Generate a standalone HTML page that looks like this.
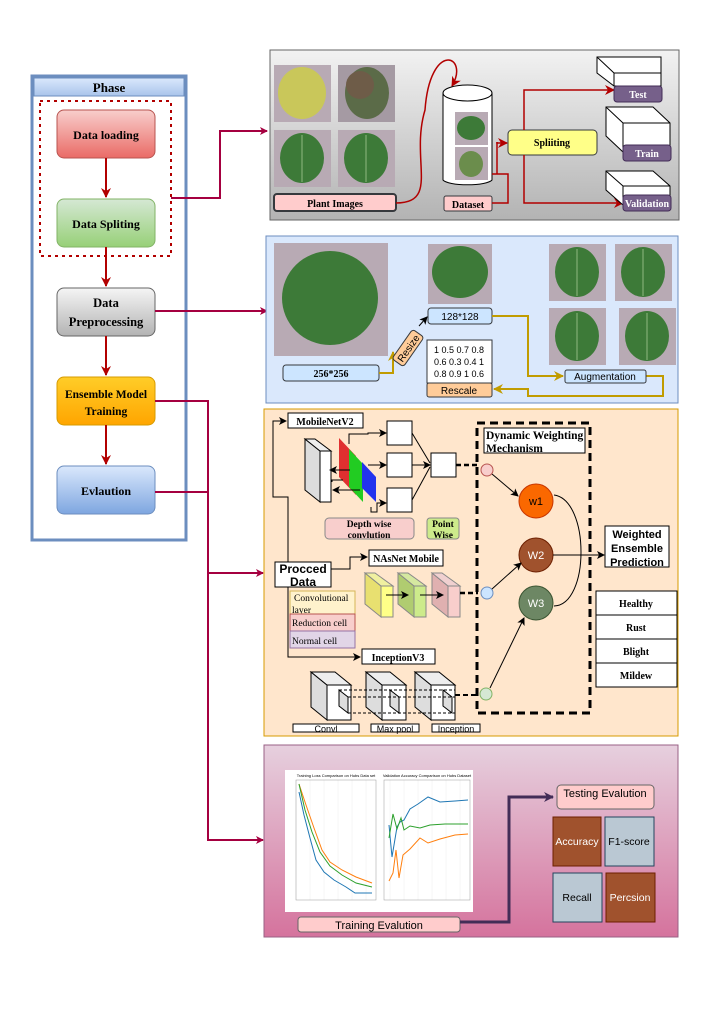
<!DOCTYPE html>
<html><head><meta charset="utf-8"><style>
body{margin:0;background:#fff}
svg{display:block}
text{font-family:"Liberation Serif",serif;font-weight:bold}
.s{font-family:"Liberation Sans",sans-serif;font-weight:normal}
</style></head><body>
<svg width="714" height="1010" viewBox="0 0 714 1010" xmlns="http://www.w3.org/2000/svg">
<defs>
<linearGradient id="gr" x1="0" y1="0" x2="0" y2="1"><stop offset="0" stop-color="#f8cecc"/><stop offset="1" stop-color="#ea6b66"/></linearGradient>
<linearGradient id="gg" x1="0" y1="0" x2="0" y2="1"><stop offset="0" stop-color="#d5e8d4"/><stop offset="1" stop-color="#97d077"/></linearGradient>
<linearGradient id="ggr" x1="0" y1="0" x2="0" y2="1"><stop offset="0" stop-color="#f5f5f5"/><stop offset="1" stop-color="#b3b3b3"/></linearGradient>
<linearGradient id="go" x1="0" y1="0" x2="0" y2="1"><stop offset="0" stop-color="#ffcd28"/><stop offset="1" stop-color="#ffa500"/></linearGradient>
<linearGradient id="gb" x1="0" y1="0" x2="0" y2="1"><stop offset="0" stop-color="#dae8fc"/><stop offset="1" stop-color="#7ea6e0"/></linearGradient>
<linearGradient id="gs1" x1="0" y1="0" x2="0" y2="1"><stop offset="0" stop-color="#f2f2f2"/><stop offset="1" stop-color="#b3b3b3"/></linearGradient>
<linearGradient id="gs4" x1="0" y1="0" x2="0" y2="1"><stop offset="0" stop-color="#e6d0de"/><stop offset="1" stop-color="#d5739d"/></linearGradient>
<linearGradient id="gh" x1="0" y1="0" x2="0" y2="1"><stop offset="0" stop-color="#dae8fc"/><stop offset="1" stop-color="#a9c4eb"/></linearGradient>
<marker id="ar" markerWidth="8" markerHeight="8" refX="7" refY="4" orient="auto" markerUnits="userSpaceOnUse"><path d="M0,0 L8,4 L0,8 L2,4z" fill="#a50040"/></marker>
<marker id="arr" markerWidth="10" markerHeight="10" refX="9" refY="5" orient="auto" markerUnits="userSpaceOnUse"><path d="M0,0 L10,5 L0,10 L3,5z" fill="#b20000"/></marker>
<marker id="ak" markerWidth="8" markerHeight="8" refX="7" refY="4" orient="auto" markerUnits="userSpaceOnUse"><path d="M0,0 L8,4 L0,8 L2,4z" fill="#000"/></marker>
<marker id="ay" markerWidth="10" markerHeight="10" refX="9" refY="5" orient="auto" markerUnits="userSpaceOnUse"><path d="M0,0 L10,5 L0,10 L3,5z" fill="#c19c00"/></marker>
<marker id="ap" markerWidth="10" markerHeight="10" refX="9" refY="5" orient="auto" markerUnits="userSpaceOnUse"><path d="M0,0 L10,5 L0,10 L3,5z" fill="#432d57"/></marker>
<g id="leaf"><rect x="0" y="0" width="57" height="57" fill="#b8aab4"/><ellipse cx="28" cy="28" rx="22" ry="25" fill="#3d7a38"/><path d="M28,5 L28,52" stroke="#8fb880" stroke-width="1"/></g>
</defs>

<!-- PHASE PANEL -->
<rect x="32" y="76" width="154" height="464" fill="#fff" stroke="#6c8ebf" stroke-width="3"/>
<rect x="34" y="78" width="150" height="18" fill="url(#gh)" stroke="#6c8ebf"/>
<text x="109" y="92" text-anchor="middle" font-size="13">Phase</text>
<rect x="40" y="101" width="131" height="155" fill="none" stroke="#b20000" stroke-width="2" stroke-dasharray="3,4"/>
<rect x="57" y="110" width="98" height="48" rx="7" fill="url(#gr)" stroke="#b85450"/>
<text x="106" y="139" text-anchor="middle" font-size="12">Data loading</text>
<rect x="57" y="199" width="98" height="48" rx="7" fill="url(#gg)" stroke="#82b366"/>
<text x="106" y="228" text-anchor="middle" font-size="12">Data Spliting</text>
<rect x="57" y="288" width="98" height="48" rx="7" fill="url(#ggr)" stroke="#666"/>
<text x="106" y="307" text-anchor="middle" font-size="12.5">Data</text>
<text x="106" y="326" text-anchor="middle" font-size="12.5">Preprocessing</text>
<rect x="57" y="377" width="98" height="48" rx="7" fill="url(#go)" stroke="#d79b00"/>
<text x="106" y="398" text-anchor="middle" font-size="11.5">Ensemble Model</text>
<text x="106" y="415" text-anchor="middle" font-size="11.5">Training</text>
<rect x="57" y="466" width="98" height="48" rx="7" fill="url(#gb)" stroke="#6c8ebf"/>
<text x="106" y="495" text-anchor="middle" font-size="12">Evlaution</text>
<g stroke="#b20000" stroke-width="2" fill="none" marker-end="url(#arr)">
<path d="M106,158 V197"/><path d="M106,247 V286"/><path d="M106,336 V375"/><path d="M106,425 V464"/>
</g>
<g stroke="#a50040" stroke-width="2" fill="none">
<path d="M171,198 H220 V131 H267" marker-end="url(#ar)"/>
<path d="M155,311 H267" marker-end="url(#ar)"/>
<path d="M155,401 H208 V840 H263" marker-end="url(#ar)"/>
<path d="M155,492 H208"/>
<path d="M208,573 H263" marker-end="url(#ar)"/>
</g>

<!-- SECTION 1 -->
<rect x="270" y="50" width="409" height="170" fill="url(#gs1)" stroke="#666"/>
<rect x="274" y="65" width="57" height="57" fill="#b8aab4"/><ellipse cx="302" cy="93" rx="24" ry="26" fill="#c9c75a"/>
<rect x="338" y="65" width="57" height="57" fill="#a59aa3"/><ellipse cx="367" cy="93" rx="22" ry="26" fill="#5b6b48"/><ellipse cx="360" cy="85" rx="14" ry="14" fill="#6e5c48"/>
<use href="#leaf" x="274" y="130"/><use href="#leaf" x="338" y="130"/>
<rect x="274" y="194" width="122" height="17" rx="3" fill="#ffcccc" stroke="#36393d" stroke-width="2"/>
<text x="335" y="207" text-anchor="middle" font-size="10">Plant Images</text>
<path d="M396,203 C440,203 410,160 425,110 C430,40 470,55 452,86" stroke="#b20000" stroke-width="1.5" fill="none" marker-end="url(#arr)"/>
<g transform="translate(462,120) rotate(-60)"><rect x="-25" y="-8" width="50" height="16" rx="3" fill="#ffff88" stroke="#36393d"/><text x="0" y="4" text-anchor="middle" font-size="10">Loading</text></g>
<path d="M443,93 V180 A25,6 0 0 0 492,180 V93" fill="#fff" stroke="#000"/>
<ellipse cx="467.5" cy="93" rx="24.5" ry="8" fill="#fff" stroke="#000"/>
<rect x="455" y="112" width="33" height="33" fill="#b8aab4"/><ellipse cx="471" cy="128" rx="14" ry="12" fill="#3d7a38"/>
<rect x="455" y="147" width="33" height="33" fill="#b8aab4"/><ellipse cx="471" cy="164" rx="12" ry="13" fill="#6b8d4c"/>
<rect x="444" y="196" width="48" height="15" rx="2" fill="#ffcccc" stroke="#36393d"/>
<text x="468" y="208" text-anchor="middle" font-size="10">Dataset</text>
<path d="M492,203 H508 V174 H492" stroke="#b20000" stroke-width="1.5" fill="none"/>
<path d="M497,142 V143 H507" stroke="#b20000" stroke-width="1.5" fill="none" marker-end="url(#arr)"/>
<path d="M497,174 V142" stroke="#b20000" stroke-width="1.5" fill="none"/>
<rect x="508" y="130" width="89" height="25" rx="4" fill="#ffff88" stroke="#36393d"/>
<text x="552" y="146" text-anchor="middle" font-size="10">Spliiting</text>
<g stroke="#b20000" stroke-width="1.5" fill="none" marker-end="url(#arr)">
<path d="M524,130 V90 H614"/><path d="M524,155 V203 H623"/>
</g>
<g stroke="#000" fill="#fff">
<path d="M597,57 L614,57 L661,57 L661,86 L614,86 L597,73z"/><path d="M597,57 L614,73 L661,73 M614,73 V86"/>
<path d="M606,107 L653,107 L670,123 L670,152 L623,152 L606,136z"/><path d="M606,107 L623,123 L670,123 M623,123 V152"/>
<path d="M606,171 L653,171 L670,186 L670,205 L623,205 L606,190z"/><path d="M606,171 L623,186 L670,186 M623,186 V205"/>
</g>
<rect x="614" y="86" width="48" height="16" rx="3" fill="#76608a" stroke="#432d57"/><text x="638" y="98" text-anchor="middle" font-size="10" fill="#fff">Test</text>
<rect x="623" y="145" width="48" height="16" rx="3" fill="#76608a" stroke="#432d57"/><text x="647" y="157" text-anchor="middle" font-size="10" fill="#fff">Train</text>
<rect x="623" y="195" width="48" height="16" rx="3" fill="#76608a" stroke="#432d57"/><text x="647" y="207" text-anchor="middle" font-size="10" fill="#fff">Validation</text>

<!-- SECTION 2 -->
<rect x="266" y="236" width="412" height="167" fill="#dae8fc" stroke="#6c8ebf"/>
<rect x="274" y="243" width="114" height="113" fill="#b8aab4"/><ellipse cx="330" cy="298" rx="48" ry="47" fill="#3d7a38"/>
<rect x="283" y="365" width="96" height="16" rx="3" fill="#cce5ff" stroke="#36393d"/><text x="331" y="377" text-anchor="middle" font-size="10">256*256</text>
<path d="M379,373 H393 V352" stroke="#c19c00" stroke-width="2" fill="none" marker-end="url(#ay)"/>
<g transform="translate(408,348) rotate(-55)"><rect x="-18" y="-7" width="36" height="14" rx="3" fill="#ffcc99" stroke="#36393d"/><text x="0" y="4" text-anchor="middle" font-size="10" class="s">Resize</text></g>
<path d="M419,326 L427,317" stroke="#000" fill="none" marker-end="url(#ak)"/>
<rect x="428" y="244" width="64" height="60" fill="#b8aab4"/><ellipse cx="460" cy="272" rx="28" ry="26" fill="#3d7a38"/>
<rect x="428" y="308" width="64" height="16" rx="3" fill="#cce5ff" stroke="#36393d"/><text x="460" y="320" text-anchor="middle" font-size="10" class="s">128*128</text>
<rect x="427" y="340" width="65" height="43" fill="#fff" stroke="#36393d"/>
<text x="459" y="353" text-anchor="middle" font-size="9" class="s">1 0.5 0.7 0.8</text>
<text x="459" y="365" text-anchor="middle" font-size="9" class="s">0.6 0.3 0.4 1</text>
<text x="459" y="377" text-anchor="middle" font-size="9" class="s">0.8 0.9 1 0.6</text>
<rect x="427" y="383" width="65" height="14" rx="2" fill="#ffcc99" stroke="#36393d"/><text x="459" y="394" text-anchor="middle" font-size="10" class="s">Rescale</text>
<path d="M492,316 H528 V376 H563" stroke="#c19c00" stroke-width="2" fill="none" marker-end="url(#ay)"/>
<path d="M646,376 H663 V396 H528 V389 H494" stroke="#c19c00" stroke-width="2" fill="none" marker-end="url(#ay)"/>
<rect x="565" y="370" width="81" height="13" rx="2" fill="#cce5ff" stroke="#36393d"/><text x="605" y="380" text-anchor="middle" font-size="10" class="s">Augmentation</text>
<use href="#leaf" x="549" y="244"/><use href="#leaf" x="615" y="244"/><use href="#leaf" x="549" y="308"/><use href="#leaf" x="619" y="308"/>

<!-- SECTION 3 -->
<rect x="264" y="409" width="414" height="327" fill="#ffe6cc" stroke="#d79b00"/>
<path d="M288,562 V497 H273 V421 H286" stroke="#000" fill="none" marker-end="url(#ak)"/>
<rect x="288" y="413" width="75" height="15" fill="#fff" stroke="#000"/><text x="325" y="425" text-anchor="middle" font-size="10">MobileNetV2</text>
<path d="M305,439 L320,451 L320,502 L305,490z" fill="#ddd" stroke="#000"/><rect x="320" y="451" width="11" height="51" fill="#fff" stroke="#000"/>
<path d="M305,439 L315,439 L331,451 L320,451z" fill="#eee" stroke="#000"/>
<path d="M339,438 L356,456 L356,495 L339,477z" fill="#e03030"/><path d="M349,449 L363,464 L363,502 L349,487z" fill="#22cc22"/><path d="M362,462 L376,477 L376,502 L362,488z" fill="#2233ee"/>
<rect x="387" y="421" width="25" height="24" fill="#fff" stroke="#000"/>
<rect x="387" y="453" width="25" height="24" fill="#fff" stroke="#000"/>
<rect x="387" y="488" width="25" height="24" fill="#fff" stroke="#000"/>
<rect x="431" y="453" width="25" height="24" fill="#fff" stroke="#000"/>
<g stroke="#000" fill="none">
<path d="M349,444 V434 H368 V433 H386" marker-end="url(#ak)"/><path d="M368,465 H386" marker-end="url(#ak)"/>
<path d="M371,507 V512 H377 V503 H386" marker-end="url(#ak)"/>
<path d="M412,433 L430,463"/><path d="M412,465 H430" marker-end="url(#ak)"/><path d="M412,500 L430,467"/>
<path d="M350,470 H330" marker-end="url(#ak)"/><path d="M343,480 H332 V482"/><path d="M360,490 H333" marker-end="url(#ak)"/>
</g>
<path d="M456,465 H480" stroke="#000" stroke-width="2.5" stroke-dasharray="5,3"/>
<rect x="325" y="518" width="89" height="21" rx="4" fill="#f8cecc" stroke="#888"/>
<text x="369" y="527" text-anchor="middle" font-size="9.5">Depth wise</text><text x="369" y="538" text-anchor="middle" font-size="9.5">convlution</text>
<rect x="427" y="518" width="32" height="21" rx="3" fill="#cdeb8b" stroke="#888"/>
<text x="443" y="527" text-anchor="middle" font-size="9.5">Point</text><text x="443" y="538" text-anchor="middle" font-size="9.5">Wise</text>
<rect x="275" y="562" width="56" height="25" fill="#fff" stroke="#000"/>
<text x="303" y="573" text-anchor="middle" font-size="12" class="s" style="font-weight:bold">Procced</text>
<text x="303" y="586" text-anchor="middle" font-size="12" class="s" style="font-weight:bold">Data</text>
<path d="M331,569 H350 V557 H367" stroke="#000" fill="none" marker-end="url(#ak)"/>
<rect x="369" y="550" width="74" height="16" fill="#fff" stroke="#000"/><text x="406" y="562" text-anchor="middle" font-size="10">NAsNet Mobile</text>
<rect x="290" y="591" width="65" height="23" fill="#fff2cc" stroke="#d6b656"/>
<text x="294" y="601" font-size="9.5" style="font-weight:normal">Convolutional</text><text x="292" y="613" font-size="9.5" style="font-weight:normal">layer</text>
<rect x="290" y="614" width="65" height="17" fill="#f8cecc" stroke="#b85450"/><text x="292" y="626" font-size="9.5" style="font-weight:normal">Reduction cell</text>
<rect x="290" y="631" width="65" height="17" fill="#e1d5e7" stroke="#9673a6"/><text x="292" y="644" font-size="9.5" style="font-weight:normal">Normal cell</text>
<path d="M288,587 V657 H360" stroke="#000" fill="none" marker-end="url(#ak)"/>
<rect x="362" y="649" width="73" height="15" fill="#fff" stroke="#000"/><text x="398" y="661" text-anchor="middle" font-size="10">InceptionV3</text>
<g stroke="#888">
<path d="M365,573 L381,586 L381,617 L365,604z" fill="#e8e070"/><rect x="381" y="586" width="12" height="31" fill="#ffff88"/><path d="M365,573 L375,573 L393,586 L381,586z" fill="#f0f0a0"/>
<path d="M398,573 L414,586 L414,617 L398,604z" fill="#b0cc70"/><rect x="414" y="586" width="12" height="31" fill="#cdeb8b"/><path d="M398,573 L408,573 L426,586 L414,586z" fill="#d5e8a0"/>
<path d="M432,573 L448,586 L448,617 L432,604z" fill="#e0b0b0"/><rect x="448" y="586" width="12" height="31" fill="#f8cecc"/><path d="M432,573 L442,573 L460,586 L448,586z" fill="#f0d0d0"/>
</g>
<g stroke="#000" fill="none" marker-end="url(#ak)"><path d="M386,595 H408"/><path d="M420,595 H443"/></g>
<path d="M460,593 H478" stroke="#000" stroke-width="2.5" stroke-dasharray="5,3"/>
<g stroke="#000">
<path d="M311,672 L327,685 L327,720 L311,707z" fill="#ddd"/><rect x="327" y="685" width="24" height="35" fill="#fff"/><path d="M311,672 L335,672 L351,685 L327,685z" fill="#eee"/>
<path d="M366,672 L382,685 L382,720 L366,707z" fill="#ddd"/><rect x="382" y="685" width="24" height="35" fill="#fff"/><path d="M366,672 L390,672 L406,685 L382,685z" fill="#eee"/>
<path d="M415,672 L431,685 L431,720 L415,707z" fill="#ddd"/><rect x="431" y="685" width="24" height="35" fill="#fff"/><path d="M415,672 L439,672 L455,685 L431,685z" fill="#eee"/>
<path d="M339,690 L348,697 L348,713 L339,706z" fill="#ddd"/><path d="M390,690 L399,697 L399,713 L390,706z" fill="#ddd"/><path d="M443,690 L452,697 L452,713 L443,706z" fill="#ddd"/>
</g>
<g stroke="#000" stroke-dasharray="3,2"><path d="M339,690 H455"/><path d="M348,697 H455"/><path d="M348,713 H455"/></g>
<path d="M455,695 H478" stroke="#000" stroke-width="2" stroke-dasharray="5,3"/>
<rect x="293" y="724" width="66" height="8" fill="#fff" stroke="#000"/><text x="326" y="732" text-anchor="middle" font-size="9" class="s">Convl</text>
<rect x="371" y="724" width="48" height="8" fill="#fff" stroke="#000"/><text x="395" y="732" text-anchor="middle" font-size="9" class="s">Max pool</text>
<rect x="432" y="724" width="48" height="8" fill="#fff" stroke="#000"/><text x="456" y="732" text-anchor="middle" font-size="9" class="s">Inception</text>
<rect x="477" y="423" width="113" height="290" fill="none" stroke="#000" stroke-width="3" stroke-dasharray="8,5"/>
<rect x="484" y="428" width="101" height="25" fill="#fff" stroke="#000"/>
<text x="486" y="439" font-size="11.5">Dynamic Weighting</text><text x="486" y="452" font-size="11.5">Mechanism</text>
<circle cx="487" cy="470" r="6" fill="#f8cecc" stroke="#b85450"/>
<circle cx="487" cy="593" r="6" fill="#cce5ff" stroke="#6c8ebf"/>
<circle cx="486" cy="694" r="6" fill="#d5e8d4" stroke="#82b366"/>
<circle cx="536" cy="501" r="17" fill="#fa6800" stroke="#c73500"/><text x="536" y="505" text-anchor="middle" font-size="11" class="s" fill="#000">w1</text>
<circle cx="536" cy="555" r="17" fill="#a0522d" stroke="#6d1f00"/><text x="536" y="559" text-anchor="middle" font-size="11" class="s" fill="#fff">W2</text>
<circle cx="536" cy="603" r="17" fill="#6d8764" stroke="#3a5431"/><text x="536" y="607" text-anchor="middle" font-size="11" class="s" fill="#fff">W3</text>
<g stroke="#000" fill="none" marker-end="url(#ak)">
<path d="M492,474 L518,496"/><path d="M492,589 L521,563"/><path d="M490,688 L524,618"/><path d="M553,555 H604"/>
</g>
<path d="M554,495 C590,500 590,605 554,606" stroke="#000" fill="none"/>
<rect x="605" y="526" width="64" height="41" fill="#fff" stroke="#000"/>
<text x="637" y="538" text-anchor="middle" font-size="11" class="s" style="font-weight:bold">Weighted</text>
<text x="637" y="552" text-anchor="middle" font-size="11" class="s" style="font-weight:bold">Ensemble</text>
<text x="637" y="566" text-anchor="middle" font-size="11" class="s" style="font-weight:bold">Prediction</text>
<g fill="#fff" stroke="#000"><rect x="596" y="591" width="81" height="24"/><rect x="596" y="615" width="81" height="24"/><rect x="596" y="639" width="81" height="24"/><rect x="596" y="663" width="81" height="24"/></g>
<text x="636" y="607" text-anchor="middle" font-size="10">Healthy</text>
<text x="636" y="631" text-anchor="middle" font-size="10">Rust</text>
<text x="636" y="655" text-anchor="middle" font-size="10">Blight</text>
<text x="636" y="679" text-anchor="middle" font-size="10">Mildew</text>

<!-- SECTION 4 -->
<rect x="264" y="745" width="414" height="192" fill="url(#gs4)" stroke="#996185"/>
<rect x="285" y="770" width="188" height="142" fill="#fff"/>
<g stroke="#eee" stroke-width="0.5"><path d="M296,780 V900 M310,780 V900 M324,780 V900 M338,780 V900 M352,780 V900 M366,780 V900 M390,780 V900 M404,780 V900 M418,780 V900 M432,780 V900 M446,780 V900 M460,780 V900"/></g>
<rect x="296" y="780" width="80" height="120" fill="none" stroke="#999" stroke-width="0.5"/>
<rect x="384" y="780" width="86" height="120" fill="none" stroke="#999" stroke-width="0.5"/>
<text x="336" y="777" text-anchor="middle" font-size="4" class="s">Training Loss Comparison on Hubs Data set</text>
<text x="427" y="777" text-anchor="middle" font-size="4" class="s">Validation Accuracy Comparison on Hubs Dataset</text>
<polyline points="299,792 304,815 310,838 316,860 324,872 334,880 346,887 355,893 372,893" stroke="#1f77b4" fill="none" stroke-width="1"/>
<polyline points="299,784 306,805 314,828 322,850 330,862 342,870 356,877 372,883" stroke="#ff7f0e" fill="none" stroke-width="1"/>
<polyline points="299,784 305,810 312,832 320,852 330,866 342,875 356,883 372,887" stroke="#2ca02c" fill="none" stroke-width="1"/>
<polyline points="389,825 392,857 397,827 400,822 404,820 410,809 418,804 428,797 440,802 455,801 468,800" stroke="#1f77b4" fill="none" stroke-width="1"/>
<polyline points="389,881 393,873 396,850 399,878 403,855 410,849 420,838 428,843 440,839 455,835 468,834" stroke="#ff7f0e" fill="none" stroke-width="1"/>
<polyline points="389,838 393,814 397,829 401,818 404,830 410,826 420,828 430,825 445,824 468,824" stroke="#2ca02c" fill="none" stroke-width="1"/>
<rect x="298" y="917" width="162" height="15" rx="3" fill="#ffcccc" stroke="#666"/>
<text x="379" y="929" text-anchor="middle" font-size="11" class="s">Training Evalution</text>
<path d="M460,922 H509 V797 H553" stroke="#432d57" stroke-width="3" fill="none" marker-end="url(#ap)"/>
<rect x="557" y="785" width="97" height="24" rx="4" fill="#ffcccc" stroke="#666"/>
<text x="605" y="797" text-anchor="middle" font-size="11" class="s">Testing Evalution</text>
<rect x="553" y="817" width="48" height="49" fill="#a0522d" stroke="#6d1f00"/><text x="577" y="845" text-anchor="middle" font-size="10.5" class="s" fill="#fff">Accuracy</text>
<rect x="605" y="817" width="49" height="49" fill="#bac8d3" stroke="#23445d"/><text x="629" y="845" text-anchor="middle" font-size="10.5" class="s">F1-score</text>
<rect x="553" y="873" width="49" height="49" fill="#bac8d3" stroke="#23445d"/><text x="577" y="901" text-anchor="middle" font-size="10.5" class="s">Recall</text>
<rect x="606" y="873" width="49" height="49" fill="#a0522d" stroke="#6d1f00"/><text x="630" y="901" text-anchor="middle" font-size="10.5" class="s" fill="#fff">Percsion</text>
</svg>
</body></html>
